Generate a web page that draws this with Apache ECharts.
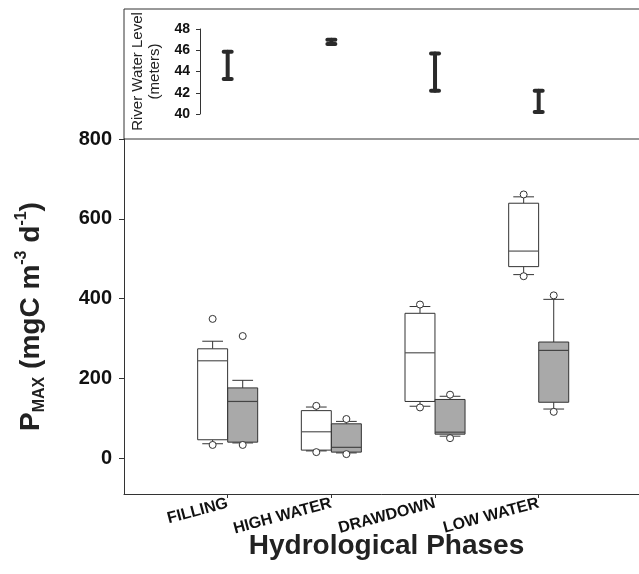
<!DOCTYPE html>
<html>
<head>
<meta charset="utf-8">
<script src="https://cdn.jsdelivr.net/npm/echarts@6/dist/echarts.min.js"></script>
<style>html,body{margin:0;padding:0;background:#fff}#c{width:639px;height:574px}</style>
</head>
<body>
<div id="c"></div>
<script>
// ---- data ----
const phases = ['FILLING', 'HIGH WATER', 'DRAWDOWN', 'LOW WATER'];
// [whiskerLow, q1, median, q3, whiskerHigh]
const openBoxes = [
  [36, 46, 244, 274, 293],
  [18, 20, 66, 119, 128],
  [130, 142, 264, 363, 380],
  [460, 480, 519, 639, 655]
];
const shadedBoxes = [
  [38, 40, 142, 176, 195],
  [13, 15, 27, 86, 92],
  [55, 60, 65, 147, 155],
  [123, 140, 270, 291, 398]
];
const openOutliers = [[349, 33], [131, 15], [385, 127], [661, 456]];
const shadedOutliers = [[306, 33], [98, 10], [159, 50], [408, 116]];
const levelLow = [43.3, 46.6, 42.2, 40.2];
const levelHigh = [45.85, 47.0, 45.7, 42.2];
const yTicks = [0, 200, 400, 600, 800];
const levelTicks = [40, 42, 44, 46, 48];

// ---- build ----
const OFF = 0.145, BOXW = 0.289, CAPW = 0.2;
const FONT = '"Liberation Sans", Arial, sans-serif';
const LINE = '#333';

function boxData(arr) { return arr.map((b, i) => [i + 1].concat(b)); }
function outData(arr, off) {
  const out = [];
  arr.forEach((o, i) => o.forEach(v => out.push([i + 1 + off, v])));
  return out;
}
function boxRender(off, fill, medColor) {
  return function (params, api) {
    const x = api.value(0) + off;
    const lo = api.value(1), q1 = api.value(2), md = api.value(3), q3 = api.value(4), hi = api.value(5);
    const cx = api.coord([x, 0])[0];
    const hw = api.size([BOXW, 0])[0] / 2;
    const cw = api.size([CAPW, 0])[0] / 2;
    const Y = v => api.coord([x, v])[1];
    const st = { stroke: LINE, lineWidth: 1, fill: null };
    return {
      type: 'group',
      children: [
        { type: 'line', shape: { x1: cx, y1: Y(hi), x2: cx, y2: Y(q3) }, style: st },
        { type: 'line', shape: { x1: cx, y1: Y(q1), x2: cx, y2: Y(lo) }, style: st },
        { type: 'line', shape: { x1: cx - cw, y1: Y(hi), x2: cx + cw, y2: Y(hi) }, style: st },
        { type: 'line', shape: { x1: cx - cw, y1: Y(lo), x2: cx + cw, y2: Y(lo) }, style: st },
        { type: 'rect', shape: { x: cx - hw, y: Y(q3), width: 2 * hw, height: Y(q1) - Y(q3) },
          style: { fill: fill, stroke: LINE, lineWidth: 1 } },
        { type: 'line', shape: { x1: cx - hw, y1: Y(md), x2: cx + hw, y2: Y(md) },
          style: { stroke: medColor, lineWidth: 1.2 } }
      ]
    };
  };
}
function beamRender(params, api) {
  const x = api.value(0);
  const a = api.coord([x, api.value(1)]);
  const b = api.coord([x, api.value(2)]);
  const st = { stroke: '#2a2a2a', lineWidth: 4, lineCap: 'round' };
  return {
    type: 'group',
    children: [
      { type: 'line', shape: { x1: a[0], y1: a[1], x2: b[0], y2: b[1] }, style: st },
      { type: 'line', shape: { x1: a[0] - 4, y1: a[1], x2: a[0] + 4, y2: a[1] }, style: st },
      { type: 'line', shape: { x1: b[0] - 4, y1: b[1], x2: b[0] + 4, y2: b[1] }, style: st }
    ]
  };
}

const XMAX = 5.064, INSET_XMIN = 0.733;
const chart = echarts.init(document.getElementById('c'), null, { renderer: 'canvas' });
chart.setOption({
  animation: false,
  backgroundColor: '#fff',
  textStyle: { fontFamily: FONT },
  grid: [
    { left: 124, top: 139, right: -10, bottom: 80, show: false, containLabel: false, outerBoundsMode: 'none' },
    { left: 124, top: 9, right: -10, height: 130, show: true, borderColor: LINE, borderWidth: 1, backgroundColor: 'transparent', containLabel: false, outerBoundsMode: 'none' },
    { left: 200, top: 29, right: -10, height: 85, show: false, containLabel: false, outerBoundsMode: 'none' }
  ],
  xAxis: [
    {
      gridIndex: 0, type: 'value', min: 0, max: XMAX,
      axisLine: { show: true, onZero: false, lineStyle: { color: LINE, width: 1 } },
      axisTick: { show: true, length: 4, customValues: [1, 2, 3, 4], lineStyle: { color: LINE } },
      axisLabel: {
        customValues: [1, 2, 3, 4], rotate: 15, margin: 9,
        formatter: v => phases[Math.round(v) - 1] || '',
        fontFamily: FONT, fontWeight: 'bold', fontSize: 16, color: '#111'
      },
      splitLine: { show: false },
      name: 'Hydrological Phases', nameLocation: 'middle', nameGap: 38, nameMoveOverlap: false,
      nameTextStyle: { fontFamily: FONT, fontWeight: 'bold', fontSize: 28, color: '#222' }
    },
    { gridIndex: 1, type: 'value', min: 0, max: 1, show: false },
    { gridIndex: 2, type: 'value', min: INSET_XMIN, max: XMAX, show: false }
  ],
  yAxis: [
    {
      gridIndex: 0, type: 'value', min: -90, max: 800,
      axisLine: { show: true, onZero: false, lineStyle: { color: LINE, width: 1 } },
      axisTick: { show: true, length: 5, customValues: yTicks, lineStyle: { color: LINE } },
      axisLabel: { customValues: yTicks, margin: 12, fontFamily: FONT, fontWeight: 'bold', fontSize: 20, color: '#111' },
      splitLine: { show: false },
      name: '{p|P}{s|MAX}{p| (mgC m}{u|-3}{p| d}{u|-1}{p|)}',
      nameLocation: 'middle', nameRotate: 90, nameGap: 76, nameMoveOverlap: false,
      nameTextStyle: {
        fontFamily: FONT, fontWeight: 'bold', fontSize: 28, color: '#222',
        rich: {
          p: { fontFamily: FONT, fontWeight: 'bold', fontSize: 28, color: '#222', lineHeight: 34 },
          s: { fontFamily: FONT, fontWeight: 'bold', fontSize: 16, color: '#222', lineHeight: 14, verticalAlign: 'bottom' },
          u: { fontFamily: FONT, fontWeight: 'bold', fontSize: 16, color: '#222', lineHeight: 14, verticalAlign: 'top' }
        }
      }
    },
    { gridIndex: 1, type: 'value', min: 0, max: 1, show: false },
    {
      gridIndex: 2, type: 'value', min: 40, max: 48, interval: 2,
      axisLine: { show: true, onZero: false, lineStyle: { color: LINE, width: 1 } },
      axisTick: { show: true, length: 4, lineStyle: { color: LINE } },
      axisLabel: { margin: 10, fontFamily: FONT, fontWeight: 'bold', fontSize: 14, color: '#111' },
      splitLine: { show: false },
      name: 'River Water Level\n(meters)', nameLocation: 'middle', nameRotate: 90, nameGap: 37, nameMoveOverlap: false,
      nameTextStyle: { fontFamily: FONT, fontSize: 15, lineHeight: 17, color: '#222' }
    }
  ],
  series: [
    {
      type: 'custom', xAxisIndex: 0, yAxisIndex: 0, clip: false,
      renderItem: boxRender(-OFF, '#ffffff', '#555'),
      encode: { x: 0, y: [1, 2, 3, 4, 5] },
      data: boxData(openBoxes)
    },
    {
      type: 'custom', xAxisIndex: 0, yAxisIndex: 0, clip: false,
      renderItem: boxRender(OFF, '#a9a9a9', '#444'),
      encode: { x: 0, y: [1, 2, 3, 4, 5] },
      data: boxData(shadedBoxes)
    },
    {
      type: 'scatter', xAxisIndex: 0, yAxisIndex: 0, symbol: 'circle', symbolSize: 7,
      itemStyle: { color: '#fff', borderColor: LINE, borderWidth: 1, opacity: 1 },
      data: outData(openOutliers, -OFF)
    },
    {
      type: 'scatter', xAxisIndex: 0, yAxisIndex: 0, symbol: 'circle', symbolSize: 7,
      itemStyle: { color: '#fff', borderColor: LINE, borderWidth: 1, opacity: 1 },
      data: outData(shadedOutliers, OFF)
    },
    {
      type: 'custom', xAxisIndex: 2, yAxisIndex: 2, clip: false,
      renderItem: beamRender,
      encode: { x: 0, y: [1, 2] },
      data: levelLow.map((v, i) => [i + 1, v, levelHigh[i]])
    }
  ]
});
</script>
</body>
</html>
